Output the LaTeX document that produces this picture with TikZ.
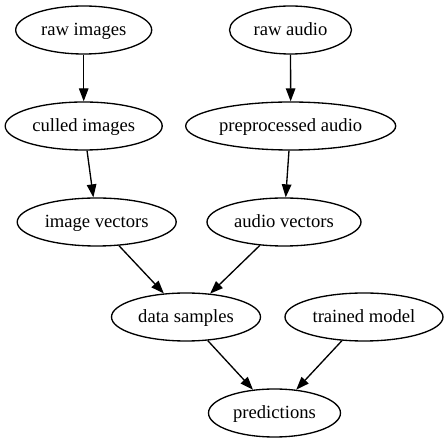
\documentclass[tikz,border=0pt]{standalone}
\usepackage{fontspec}
\setmainfont{Liberation Serif}
\usetikzlibrary{arrows.meta,shapes.geometric}
\begin{document}
\begin{tikzpicture}[x=1pt,y=-1pt,
  gnode/.style={draw, ellipse, line width=1.33pt, inner sep=0pt, minimum height=48pt, text height=15pt, text depth=3pt, font=\fontsize{18.6}{20}\selectfont},
  gedge/.style={draw, line width=1.33pt, -{Triangle[length=13pt,width=9.5pt]}}]
\useasboundingbox (0,0) rectangle (448,443);
\node[gnode, minimum width=136pt] (ri) at (83.7,30) {raw images};
\node[gnode, minimum width=122pt] (ra) at (290.5,30) {raw audio};
\node[gnode, minimum width=157pt] (ci) at (83.7,126) {culled images};
\node[gnode, minimum width=210pt] (pa) at (290.7,126) {preprocessed audio};
\node[gnode, minimum width=159pt] (iv) at (96.7,222) {image vectors};
\node[gnode, minimum width=154pt] (av) at (284,222) {audio vectors};
\node[gnode, minimum width=149pt] (ds) at (186,317) {data samples};
\node[gnode, minimum width=158pt] (tm) at (364,317) {trained model};
\node[gnode, minimum width=132pt] (pr) at (274.5,413) {predictions};
\draw[gedge] (ri) -- (ci);
\draw[gedge] (ra) -- (pa);
\draw[gedge] (ci) -- (iv);
\draw[gedge] (pa) -- (av);
\draw[gedge] (iv) -- (ds);
\draw[gedge] (av) -- (ds);
\draw[gedge] (ds) -- (pr);
\draw[gedge] (tm) -- (pr);
\end{tikzpicture}
\end{document}
